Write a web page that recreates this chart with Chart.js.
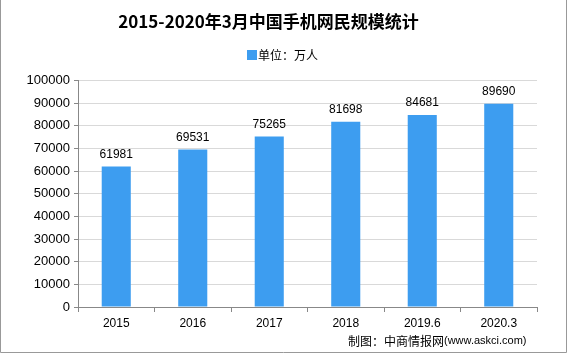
<!DOCTYPE html>
<html>
<head>
<meta charset="utf-8">
<script src="https://cdn.jsdelivr.net/npm/chart.js@4.4.0/dist/chart.umd.min.js"></script>
<style>
  body { margin: 0; background: #fff; }
  #wrap { width: 569px; height: 354px; position: relative; }
</style>
</head>
<body>
<div id="wrap"><canvas id="chart" width="569" height="354"></canvas></div>
<script>
var categories = ['2015', '2016', '2017', '2018', '2019.6', '2020.3'];
var users = [61981, 69531, 75265, 81698, 84681, 89690];
var yMax = 100000;
var yStep = 10000;
var barColor = '#3d9df0';

// value labels above the bars, legend, source line and frame
var extras = {
  id: 'extras',
  afterDatasetsDraw: function (chart) {
    var ctx = chart.ctx;
    var meta = chart.getDatasetMeta(0);
    ctx.save();
    ctx.font = '12px "Liberation Sans", Arial, sans-serif';
    ctx.fillStyle = '#000';
    ctx.textAlign = 'center';
    ctx.textBaseline = 'bottom';
    meta.data.forEach(function (bar, i) {
      ctx.fillText(users[i], bar.x, bar.y - 6);
    });
    ctx.restore();
  },
  afterDraw: function (chart) {
    var ctx = chart.ctx;
    ctx.save();
    ctx.textBaseline = 'middle';
    ctx.fillStyle = '#000';
    ctx.textAlign = 'left';

    // legend
    ctx.fillStyle = barColor;
    ctx.fillRect(247, 50, 10, 10);
    ctx.fillStyle = '#000';
    ctx.font = '12px "Noto Sans CJK SC", sans-serif';
    ctx.fillText(chart.data.datasets[0].label, 258, 55);

    ctx.font = '12px "Noto Sans CJK SC", sans-serif';
    var s1 = '制图：中商情报网';
    ctx.fillText(s1, 348, 341);
    var w = ctx.measureText(s1).width;
    ctx.font = '11px "Liberation Sans", Arial, sans-serif';
    ctx.fillText('(www.askci.com)', 348 + w, 341);
    ctx.strokeStyle = '#999';
    ctx.lineWidth = 1;
    ctx.beginPath();
    ctx.moveTo(0.5, 0);
    ctx.lineTo(0.5, 352.5);
    ctx.lineTo(566.5, 352.5);
    ctx.lineTo(566.5, 0);
    ctx.stroke();
    ctx.restore();
  }
};

new Chart(document.getElementById('chart'), {
  type: 'bar',
  data: {
    labels: categories,
    datasets: [{
      label: '单位：万人',
      data: users,
      backgroundColor: barColor,
      barPercentage: 0.76,
      categoryPercentage: 0.5
    }]
  },
  options: {
    responsive: false,
    animation: false,
    layout: { padding: { left: 0, right: 32, top: 0, bottom: 0 } },
    plugins: {
      title: {
        display: true,
        text: '2015-2020年3月中国手机网民规模统计',
        color: '#000',
        font: { family: '"Noto Sans CJK SC", sans-serif', size: 17, weight: 'bold' },
        padding: { top: 11, bottom: 49 }
      },
      legend: { display: false },
      tooltip: { enabled: false }
    },
    scales: {
      y: {
        min: 0,
        max: yMax,
        ticks: {
          stepSize: yStep,
          color: '#000',
          padding: 4,
          font: { family: '"Liberation Sans", Arial, sans-serif', size: 13 },
          callback: function (v) { return String(v); }
        },
        grid: { color: '#d9d9d9', tickColor: '#888', tickLength: 4 },
        border: { color: '#888' },
        afterFit: function (scale) { scale.width = 78; }
      },
      x: {
        ticks: {
          color: '#000',
          padding: 4,
          font: { family: '"Liberation Sans", Arial, sans-serif', size: 12 }
        },
        grid: { offset: true, drawOnChartArea: false, tickColor: '#888', tickLength: 5 },
        border: { color: '#888' },
        afterFit: function (scale) { scale.height = 47; }
      }
    }
  },
  plugins: [extras]
});
</script>
</body>
</html>
